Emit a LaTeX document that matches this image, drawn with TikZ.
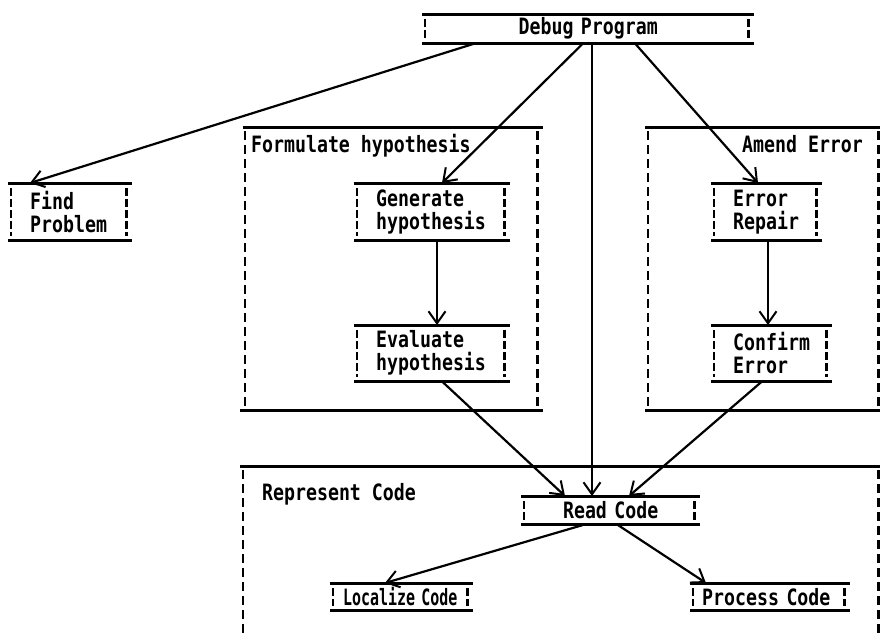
\documentclass[tikz,border=0pt]{standalone}
\usepackage{fontspec}
\usepackage{graphicx}
\newfontfamily\dotfont[FakeStretch=0.81]{DejaVu Sans Mono}
\usetikzlibrary{arrows.meta}
\begin{document}
\begin{tikzpicture}[x=1pt,y=-1pt,
  every node/.style={font=\dotfont\bfseries\fontsize{22.5}{23}\selectfont, text=black},
  rule/.style={line width=3pt},
  cellbar/.style={line width=2.4pt, dash pattern=on 8pt off 3pt on 8pt off 3pt},
  framebar/.style={line width=2.4pt, dash pattern=on 9pt off 5pt},
  link/.style={line width=2.2pt, -{Straight Barb[length=12pt,width=17pt,line width=2pt]}},
  cell/.style={anchor=north west, inner xsep=22pt, inner ysep=0pt, align=left, minimum height=#1},
  framebox/.style={anchor=north west, inner sep=0pt},
  caption/.style={anchor=base west, inner sep=0pt}
]
\useasboundingbox (0,0) rectangle (880,635);

% ---- group frames ----
\node[framebox, minimum width=300pt, minimum height=283pt] (fhyp) at (243,127) {};
\node[framebox, minimum width=235pt, minimum height=283pt] (amend) at (645,127) {};
\node[framebox, minimum width=640pt, minimum height=169pt] (repr) at (240,466) {};

\draw[rule] (fhyp.north west) -- (fhyp.north east);
\draw[rule] ([xshift=-3pt]fhyp.south west) -- (fhyp.south east);
\draw[framebar] ([xshift=2pt,yshift=-4pt]fhyp.north west) -- ([xshift=2pt,yshift=3pt]fhyp.south west);
\draw[framebar] ([xshift=-6pt,yshift=-4pt]fhyp.north east) -- ([xshift=-6pt,yshift=3pt]fhyp.south east);

\draw[rule] (amend.north west) -- (amend.north east);
\draw[rule] (amend.south west) -- (amend.south east);
\draw[framebar] ([xshift=3pt,yshift=-4pt]amend.north west) -- ([xshift=3pt,yshift=3pt]amend.south west);
\draw[framebar] ([xshift=-2pt,yshift=-4pt]amend.north east) -- ([xshift=-2pt,yshift=3pt]amend.south east);

\draw[rule] (repr.north west) -- (repr.north east);
\draw[framebar] ([xshift=3pt,yshift=-4pt]repr.north west) -- ([xshift=3pt]repr.south west);
\draw[framebar] ([xshift=-2pt,yshift=-4pt]repr.north east) -- ([xshift=-2pt]repr.south east);

\node[caption] (fhyplabel) at (251,152) {Formulate hypothesis};
\node[caption] (amendlabel) at (742,152) {Amend Error};
\node[caption] (reprlabel) at (262,500) {Represent Code};

% ---- boxes ----
\node[cell=29pt, text width=288pt, align=center] (debug) at (422,14) {Debug Program};
\node[cell=57pt, text width=80pt] (find) at (8,183) {Find\\Problem};
\node[cell=57pt, text width=112pt] (gen) at (354,183) {Generate\\hypothesis};
\node[cell=56pt, text width=112pt] (eval) at (354,325) {Evaluate\\hypothesis};
\node[cell=57pt, text width=67pt] (repair) at (711,183) {Error\\Repair};
\node[cell=56pt, text width=77pt] (confirm) at (711,325) {Confirm\\Error};
\node[cell=28pt, text width=135pt, align=center] (read) at (521,496) {Read Code};
\node[cell=27pt, inner xsep=13pt, text width=117pt] (local) at (330,583) {\scalebox{0.82}[1]{Localize Code}};
\node[cell=27pt, inner xsep=12pt, text width=136pt] (process) at (690,583) {Process Code};

\foreach \n in {debug,find,gen,eval,repair,confirm,read,local,process}{
  \draw[rule] (\n.north west) -- (\n.north east);
  \draw[rule] (\n.south west) -- (\n.south east);
  \draw[cellbar] ([xshift=3pt,yshift=-5pt]\n.north west) -- ([xshift=3pt,yshift=4pt]\n.south west);
  \draw[cellbar] ([xshift=-6pt,yshift=-5pt]\n.north east) -- ([xshift=-6pt,yshift=4pt]\n.south east);
}

% ---- connectors ----
\draw[link] ([xshift=53pt]debug.south west) -- ([xshift=22pt]find.north west);
\draw[link] ([xshift=161pt]debug.south west) -- ([xshift=88pt]gen.north west);
\draw[link, line width=1.6pt] ([xshift=170pt]debug.south west) -- ([xshift=71pt]read.north west);
\draw[link] ([xshift=213pt]debug.south west) -- ([xshift=47pt]repair.north west);
\draw[link] ([xshift=83pt]gen.south west) -- ([xshift=83pt]eval.north west);
\draw[link] ([xshift=57pt]repair.south west) -- ([xshift=57pt]confirm.north west);
\draw[link] ([xshift=88pt]eval.south west) -- ([xshift=44pt]read.north west);
\draw[link] ([xshift=51pt]confirm.south west) -- ([xshift=108pt]read.north west);
\draw[link] ([xshift=64pt]read.south west) -- ([xshift=55pt]local.north west);
\draw[link] ([xshift=96pt]read.south west) -- ([xshift=16pt]process.north west);
\end{tikzpicture}
\end{document}
